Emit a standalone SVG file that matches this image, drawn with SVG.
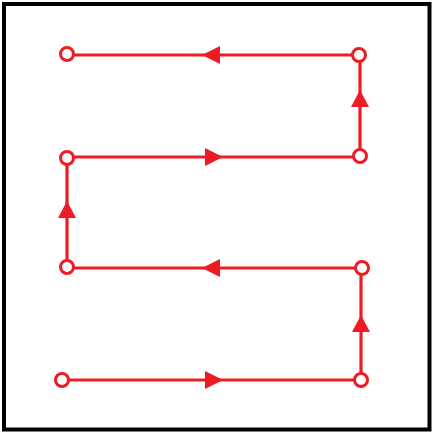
<svg xmlns="http://www.w3.org/2000/svg" width="434" height="433" viewBox="0 0 434 433">
<style>
.line{stroke:#ED1C24;stroke-width:3.2;fill:none}
.node{fill:#fff;stroke:#ED1C24;stroke-width:3}
.arrow{fill:#ED1C24}
</style>
<rect x="4" y="4" width="425.5" height="425.5" fill="#fff" stroke="#000" stroke-width="4"/>
<g id="connectors">
<polyline class="line" points="62,380 361,380 361,268 67,268 67,157 360,157 360,55 67,55"/>
<polygon class="arrow" points="223,380 205,371 205,389"/>
<polygon class="arrow" points="361,315 352,332 370,332"/>
<polygon class="arrow" points="202,268 220,259 220,277"/>
<polygon class="arrow" points="67,201 58,218 76,218"/>
<polygon class="arrow" points="223,157 205,148 205,166"/>
<polygon class="arrow" points="360,90 351,107 369,107"/>
<polygon class="arrow" points="202,55 220,46 220,64"/>
</g>
<g id="n1"><circle class="node" cx="62" cy="380" r="6.5"/></g>
<g id="n2"><circle class="node" cx="361" cy="380" r="6.5"/></g>
<g id="n3"><circle class="node" cx="362" cy="268" r="6.5"/></g>
<g id="n4"><circle class="node" cx="67" cy="267" r="6.5"/></g>
<g id="n5"><circle class="node" cx="67" cy="158" r="6.5"/></g>
<g id="n6"><circle class="node" cx="360" cy="156" r="6.5"/></g>
<g id="n7"><circle class="node" cx="359" cy="55" r="6.5"/></g>
<g id="n8"><circle class="node" cx="67" cy="54" r="6.5"/></g>
</svg>
